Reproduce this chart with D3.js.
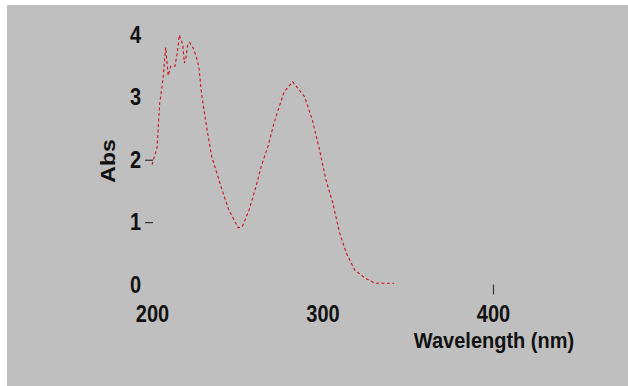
<!DOCTYPE html>
<html><head><meta charset="utf-8">
<script src="https://cdn.jsdelivr.net/npm/d3@7"></script>
<style>html,body{margin:0;padding:0;background:#fff;}svg{display:block;}</style>
</head><body>
<script>
const wavelength = [200,203,204.5,206.5,208,209.5,211,213.5,215,216,218,219,220,221,222,224,226,227.5,229,232,235,238,241,245,250.5,253,257,261,264,268,271,274,277.5,282.5,289.5,294,298,302,306,310,314,319,325,331,342];
const absorbance = [1.92,2.2,2.9,3.3,3.8,3.35,3.5,3.5,3.75,4.0,3.85,3.55,3.65,3.85,3.88,3.8,3.65,3.49,3.07,2.53,2.05,1.79,1.52,1.2,0.91,0.93,1.2,1.57,1.89,2.21,2.53,2.8,3.09,3.25,3.01,2.64,2.19,1.68,1.31,0.83,0.5,0.23,0.1,0.02,0.02];
const xTickLabels = [200,300,400];
const xTickMarks = [400];
const yTickLabels = [0,1,2,3,4];
const yTickMarks = [1,2];
const xTitle = "Wavelength (nm)";
const yTitle = "Abs";

const W = 628, H = 386, SY = 1.18;
const svg = d3.select("body").append("svg").attr("width", W).attr("height", H);
svg.append("rect").attr("x",7).attr("y",5).attr("width",W-7).attr("height",H-5).attr("fill","#bfbfbf");

const x = d3.scaleLinear().domain([200,400]).range([152,493]);
const y = d3.scaleLinear().domain([0,4]).range([284.5,35]);
const font = "Liberation Sans, Arial, sans-serif";

function styleText(sel, baseline) {
  sel.attr("font-family", font).attr("font-weight","bold").attr("font-size","20px")
     .attr("fill","#111").attr("dy",0).attr("y", baseline / SY)
     .attr("transform", `scale(1,${SY})`);
}

// x labels
const xa = svg.append("g").attr("transform", `translate(0,${y(0)})`)
  .call(d3.axisBottom(x).tickValues(xTickLabels).tickSize(0).tickFormat(d3.format("d")));
xa.select(".domain").remove();
styleText(xa.selectAll("text"), 37.5);
// x tick marks
const xm = svg.append("g").attr("transform", `translate(0,${y(0)})`)
  .call(d3.axisBottom(x).tickValues(xTickMarks).tickSize(10).tickFormat(""));
xm.select(".domain").remove();
xm.selectAll("line").attr("stroke","#333").attr("stroke-width",1.2);

// y labels
const ya = svg.append("g").attr("transform", `translate(153,0)`)
  .call(d3.axisLeft(y).tickValues(yTickLabels).tickSize(0).tickFormat(d3.format("d")));
ya.select(".domain").remove();
styleText(ya.selectAll("text").attr("x",-12), 7.5);
// y tick marks
const ym = svg.append("g").attr("transform", `translate(153,0)`)
  .call(d3.axisLeft(y).tickValues(yTickMarks).tickSize(8).tickFormat(""));
ym.select(".domain").remove();
ym.selectAll("line").attr("stroke","#333").attr("stroke-width",1.2);

// titles
svg.append("text").attr("font-family",font).attr("font-weight","bold").attr("font-size","20px")
  .attr("fill","#111").attr("text-anchor","middle")
  .attr("transform", `translate(494,348) scale(1,1.12)`).text(xTitle);
svg.append("text").attr("font-family",font).attr("font-weight","bold").attr("font-size","20px")
  .attr("fill","#111").attr("text-anchor","middle")
  .attr("transform", `translate(115,161) rotate(-90) scale(1.15,1)`).text(yTitle);

// curve
const data = wavelength.map((w,i)=>({w, a:absorbance[i]}));
svg.append("path").datum(data)
  .attr("fill","none").attr("stroke","#cc1122").attr("stroke-width",1.1)
  .attr("stroke-dasharray","3,2.5")
  .attr("d", d3.line().x(d=>x(d.w)).y(d=>y(d.a)));
</script>
</body></html>
